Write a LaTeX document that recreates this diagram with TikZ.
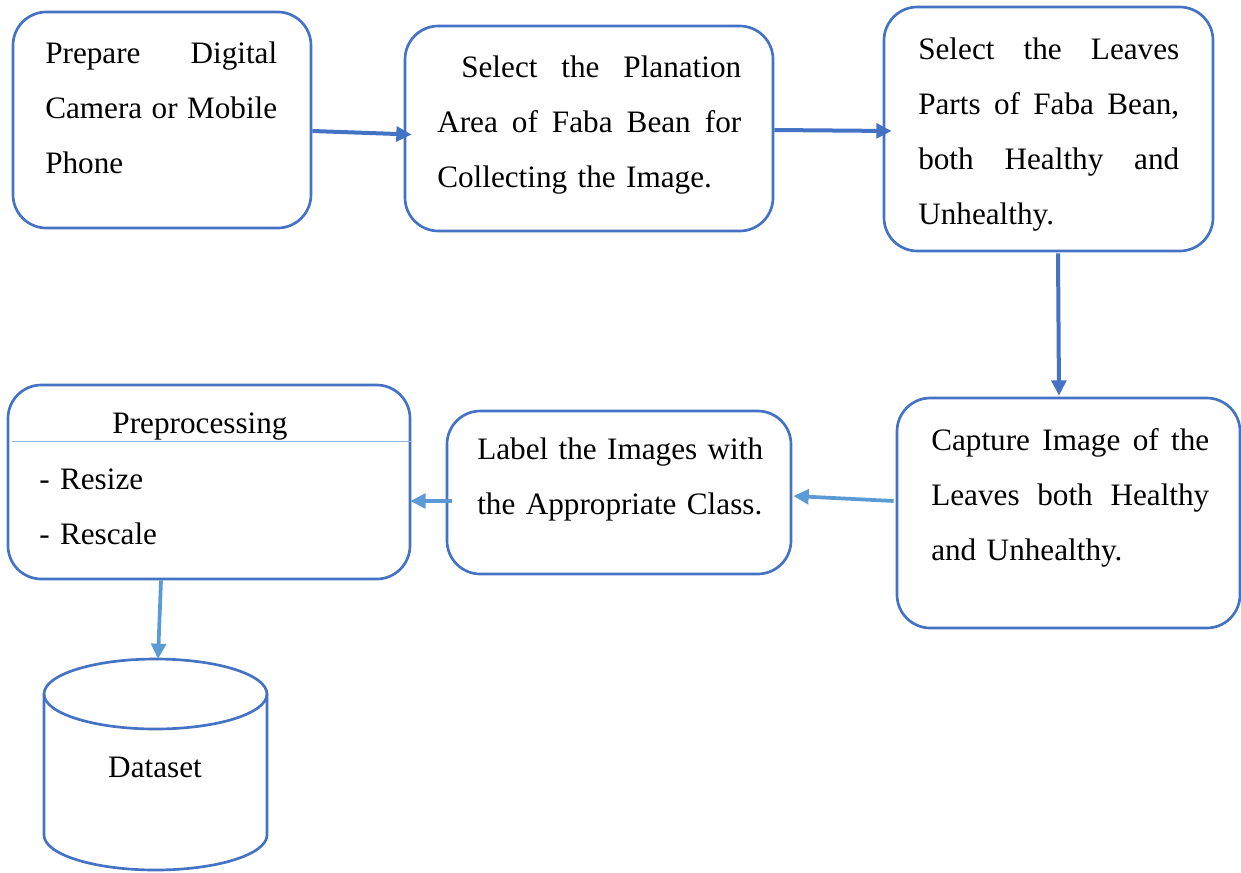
\documentclass[tikz,border=0pt]{standalone}
\usepackage{fontspec}
\setmainfont{Liberation Serif}
\usetikzlibrary{arrows.meta,calc}
\definecolor{boxblue}{HTML}{4472C4}
\definecolor{lightblue}{HTML}{5B9BD5}
\definecolor{divblue}{HTML}{8FB4E3}
\newcommand{\jline}[2]{\leavevmode\hbox to #1{#2}}
\tikzset{
  stepbox/.style={draw=boxblue, line width=2pt, rounded corners=25pt, rectangle, inner sep=0pt, fill=white},
  txt/.style={anchor=north west, inner sep=0pt, align=left, font=\fontsize{23.4pt}{41.25pt}\selectfont},
  lbl/.style={inner sep=0pt, font=\fontsize{23.4pt}{41.25pt}\selectfont},
  darr/.style={draw=boxblue, line width=3pt, -{Triangle[length=11.5pt,width=11pt]}},
  larr/.style={draw=lightblue, line width=2.8pt, -{Triangle[length=11.5pt,width=11pt]}}
}
\begin{document}
\begin{tikzpicture}[x=0.75pt,y=-0.75pt]
\useasboundingbox (0,0) rectangle (1241,872);
% boxes
\node[stepbox, minimum width=223.5pt, minimum height=162pt] (b1) at (162,120) {};
\node[stepbox, minimum width=276pt, minimum height=153.75pt] (b2) at (589,128.5) {};
\node[stepbox, minimum width=246.75pt, minimum height=183pt] (b3) at (1048.5,129) {};
\node[stepbox, minimum width=257.25pt, minimum height=172.5pt] (b4) at (1068.5,513) {};
\node[stepbox, minimum width=258pt, minimum height=122.25pt] (b5) at (619,492.5) {};
\node[stepbox, minimum width=301.5pt, minimum height=145.5pt] (b6) at (209,482) {};
% divider in preprocessing box
\draw[divblue, line width=0.9pt] ($(b6.north west)+(5,58)$) coordinate (dv1) -- ($(b6.north east)+(0,58)$) coordinate (dv2);
% texts
\node[txt, text width=176pt] (t1) at (45,39) {\rule{0pt}{18pt}\jline{174pt}{Prepare\hfill Digital}\\\jline{174pt}{Camera\hfill or\hfill Mobile}\\Phone};
\node[txt, text width=230pt] (t2) at (437,53) {\rule{0pt}{18pt}\hspace*{18pt}\jline{210pt}{Select\hfill the\hfill Planation}\\\jline{228pt}{Area\hfill of\hfill Faba\hfill Bean\hfill for}\\Collecting the Image.};
\node[txt, text width=198pt] (t3) at (918,35) {\rule{0pt}{18pt}\jline{195.75pt}{Select\hfill the\hfill Leaves}\\\jline{195.75pt}{Parts\hfill of\hfill Faba\hfill Bean,}\\\jline{195.75pt}{both\hfill Healthy\hfill and}\\Unhealthy.};
\node[txt, text width=211pt] (t4) at (931,426) {\rule{0pt}{18pt}\jline{208.5pt}{Capture\hfill Image\hfill of\hfill the}\\\jline{208.5pt}{Leaves\hfill both\hfill Healthy}\\and Unhealthy.};
\node[txt, text width=230pt] (t5) at (477,435) {\rule{0pt}{18pt}Label the Images with\\the Appropriate Class.};
\node[lbl, anchor=base] (t6) at (200,433) {Preprocessing};
\node[txt, text width=200pt] (t7) at (39,465) {\rule{0pt}{18pt}- Resize\\- Rescale};
% cylinder
\draw[boxblue, line width=2pt, fill=white] (44,694) -- (44,835) arc[start angle=180, end angle=360, x radius=83.625pt, y radius=26.25pt] -- (267,694);
\draw[boxblue, line width=2pt] (155.5,694) ellipse [x radius=83.625pt, y radius=26.25pt];
\coordinate (dstop) at (158,659);
\node[lbl, anchor=base] (ds) at (155,777) {Dataset};
% arrows
\draw[darr] ($(b1.east)+(0,11)$) -- ($(b2.west)+(8,6)$);
\draw[darr] ($(b2.east)+(0,1.5)$) -- ($(b3.west)+(9,2)$);
\draw[darr] ($(b3.south)+(9.5,1)$) -- ($(b4.north)+(-9.5,-1)$);
\draw[larr] ($(b4.west)+(-2,-12)$) -- ($(b5.east)+(1,3.5)$);
\draw[larr] ($(b5.west)+(6,8.5)$) -- ($(b6.east)+(-1,19)$);
\draw[larr] ($(b6.south)+(-48,0)$) -- (dstop);
\end{tikzpicture}
\end{document}
